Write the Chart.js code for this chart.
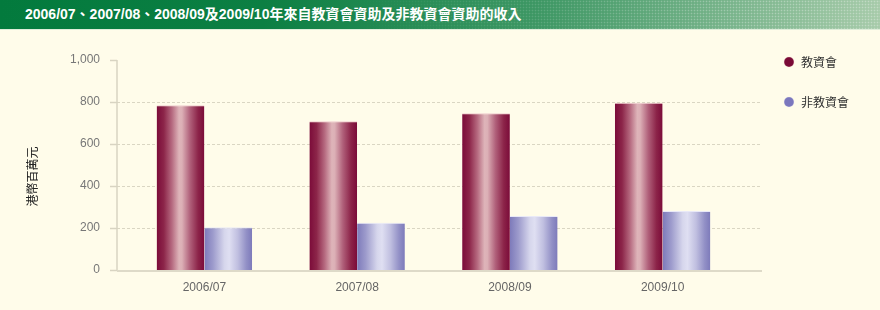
<!DOCTYPE html>
<html>
<head>
<meta charset="utf-8">
<script src="https://cdn.jsdelivr.net/npm/chart.js@4.4.1/dist/chart.umd.min.js"></script>
<style>
html, body { margin: 0; padding: 0; background: #fffcea; }
#wrap { position: relative; width: 880px; height: 310px; overflow: hidden; background: #fffcea; }
#head {
  position: absolute; left: 0; top: 0; width: 880px; height: 29px;
  background: linear-gradient(to right, #037a3d 0%, #0c7f43 30%, #3f9865 62%, #a7cbaa 100%);
  border-bottom: 1px solid #dfeeda;
}
#head .dots {
  position: absolute; left: 0; top: 0; right: 0; bottom: 0;
  background-image: radial-gradient(circle, rgba(255,255,255,0.32) 0.7px, transparent 1.1px);
  background-size: 3px 3px;
  -webkit-mask-image: linear-gradient(to right, transparent 40%, #000 85%);
  mask-image: linear-gradient(to right, transparent 40%, #000 85%);
}
#head h1 {
  position: absolute; left: 25px; top: 0; margin: 0;
  line-height: 29px; font-size: 14px; font-weight: bold; color: #fff;
  font-family: "Liberation Sans", Arial, "Noto Sans CJK TC", sans-serif;
  white-space: nowrap;
}
#box { position: absolute; left: 0; top: 30px; width: 880px; height: 280px; }
</style>
</head>
<body>
<div id="wrap">
  <div id="head"><div class="dots"></div><h1>2006/07、2007/08、2008/09及2009/10年來自教資會資助及非教資會資助的收入</h1></div>
  <div id="box"><canvas id="chart"></canvas></div>
</div>
<script>
const years = ['2006/07', '2007/08', '2008/09', '2009/10'];
const ugcFunded = [784, 708, 746, 797];
const nonUgcFunded = [203, 225, 257, 281];
const seriesNames = ['教資會', '非教資會'];
const yAxisTitle = '港幣百萬元';
const yMax = 1000;
const yStep = 200;

const cjk = '"Noto Sans CJK TC", "Noto Sans CJK SC", sans-serif';
Chart.defaults.font.family = '"Liberation Sans", Arial, sans-serif';
Chart.defaults.font.size = 12;

const baseColors = ['#7a0a36', '#7b77bd'];
const stops = [
  [[0, '#7b0b39'], [0.15, '#8c2549'], [0.32, '#b66a80'], [0.47, '#deb4b9'], [0.53, '#dcb0b6'], [0.7, '#b0607a'], [0.87, '#8c2449'], [1, '#7b0b39']],
  [[0, '#7d7aba'], [0.18, '#9d9bcc'], [0.42, '#d6d6ec'], [0.52, '#dfdff2'], [0.7, '#c0bfe0'], [0.88, '#9290c6'], [1, '#7d7aba']]
];

// axis frame, dashed grid and per-bar gradients
const frame = {
  id: 'frame',
  afterLayout(chart) {
    const lg = chart.legend;
    lg.left += 16; lg.right += 16;
    lg.top -= 15; lg.bottom -= 15;
  },
  beforeDatasetsDraw(chart) {
    const { ctx, chartArea: a, scales: { y } } = chart;
    const left = a.left - 11, right = a.right + 23;
    ctx.save();
    ctx.strokeStyle = '#dad6c3';
    ctx.lineWidth = 1;
    ctx.setLineDash([3, 2]);
    y.ticks.forEach(t => {
      if (t.value <= y.min || t.value >= y.max) return;
      const py = Math.round(y.getPixelForValue(t.value)) + 0.5;
      ctx.beginPath(); ctx.moveTo(left, py); ctx.lineTo(right, py); ctx.stroke();
    });
    ctx.restore();

    chart.data.datasets.forEach((ds, i) => {
      chart.getDatasetMeta(i).data.forEach(el => {
        const g = ctx.createLinearGradient(el.x - el.width / 2, 0, el.x + el.width / 2, 0);
        stops[i].forEach(([o, c]) => g.addColorStop(o, c));
        el.options.backgroundColor = g;
      });
    });
  },
  afterDatasetsDraw(chart) {
    const { ctx, chartArea: a, scales: { y } } = chart;
    const axisX = a.left - 11, right = a.right + 23;
    ctx.save();
    ctx.strokeStyle = '#d8d4c2';
    ctx.lineWidth = 1.5;
    y.ticks.forEach(t => {
      const py = Math.round(y.getPixelForValue(t.value)) + 0.5;
      ctx.beginPath(); ctx.moveTo(axisX - 7, py); ctx.lineTo(axisX, py); ctx.stroke();
    });
    ctx.beginPath();
    ctx.moveTo(axisX, y.getPixelForValue(y.max));
    ctx.lineTo(axisX, y.getPixelForValue(y.min));
    ctx.stroke();
    ctx.strokeStyle = '#dedac8';
    ctx.lineWidth = 2;
    const by = y.getPixelForValue(y.min) + 1;
    ctx.beginPath(); ctx.moveTo(axisX, by); ctx.lineTo(right, by); ctx.stroke();
    ctx.restore();
  }
};

new Chart(document.getElementById('chart'), {
  type: 'bar',
  data: {
    labels: years,
    datasets: [
      {
        label: seriesNames[0], data: ugcFunded,
        backgroundColor: () => baseColors[0],
        borderColor: 'rgba(238,200,206,0.95)', borderWidth: { top: 1, left: 0, right: 0, bottom: 0 },
        borderSkipped: 'bottom'
      },
      {
        label: seriesNames[1], data: nonUgcFunded,
        backgroundColor: () => baseColors[1],
        borderColor: 'rgba(232,232,248,0.95)', borderWidth: { top: 1, left: 0, right: 0, bottom: 0 },
        borderSkipped: 'bottom'
      }
    ]
  },
  options: {
    responsive: true,
    maintainAspectRatio: false,
    devicePixelRatio: 1,
    animation: false,
    events: [],
    layout: { padding: { top: 13, left: 0, right: 0, bottom: 0 } },
    datasets: { bar: { barPercentage: 1, categoryPercentage: 0.625 } },
    scales: {
      x: {
        grid: { display: false, drawTicks: false },
        border: { display: false },
        ticks: { color: '#666', padding: 10, font: { size: 12 } },
        afterFit: s => { s.height = 40; s.paddingRight = 141; }
      },
      y: {
        min: 0, max: yMax,
        grid: { display: false, drawTicks: false },
        border: { display: false },
        ticks: { stepSize: yStep, color: '#777', padding: 28, font: { size: 12 } },
        afterFit: s => {
          const tb = s.chart.titleBlock;
          s.width = 128 - (tb ? tb.width : 39.4);
          s.paddingTop = 30;
        }
      }
    },
    plugins: {
      title: {
        display: true, position: 'left', text: yAxisTitle,
        color: '#222', font: { family: cjk, size: 12, weight: 'normal' },
        padding: { top: 25, bottom: 0 }
      },
      legend: {
        position: 'right', align: 'start',
        labels: {
          usePointStyle: true, pointStyle: 'circle',
          boxWidth: 12, boxHeight: 7, padding: 28,
          color: '#333', font: { family: cjk, size: 12 }
        }
      },
      tooltip: { enabled: false }
    }
  },
  plugins: [frame]
});
</script>
</body>
</html>
